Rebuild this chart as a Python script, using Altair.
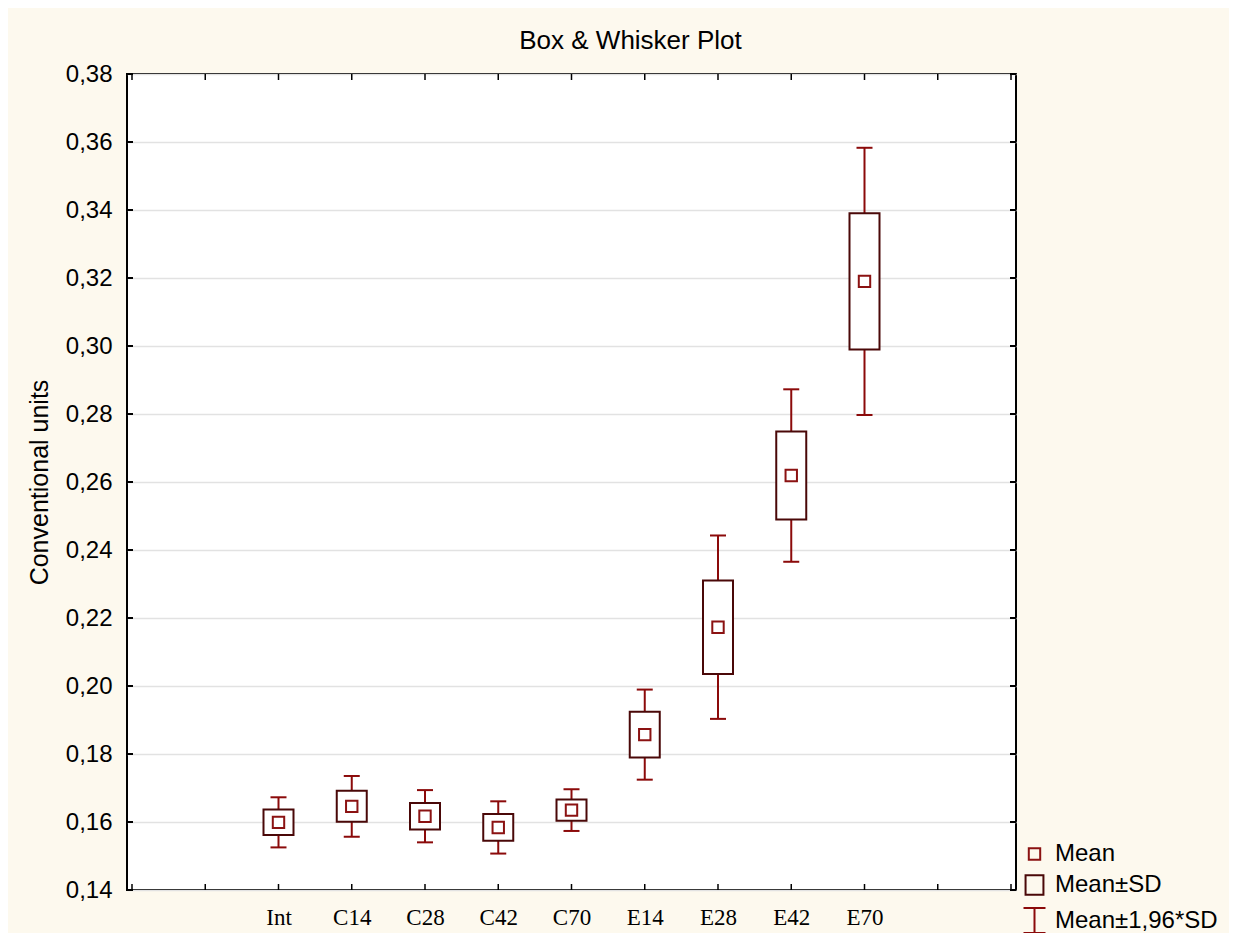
import json
import altair as alt
import pandas as pd

# ---- data ----
categories = ["Int", "C14", "C28", "C42", "C70", "E14", "E28", "E42", "E70"]
means = [0.1599, 0.1646, 0.1617, 0.1584, 0.1635, 0.1857, 0.2173, 0.2619, 0.3190]
sds = [0.00376, 0.00456, 0.00392, 0.00392, 0.00313, 0.00676, 0.01376, 0.01294, 0.02005]
y_ticks = [0.14, 0.16, 0.18, 0.20, 0.22, 0.24, 0.26, 0.28, 0.30, 0.32, 0.34, 0.36, 0.38]
legend_items = ["Mean", "Mean±SD", "Mean±1,96*SD"]
x_slots = list(range(13))  # category slots: 2 empty on each side

W, H = 889, 816
MEAN_C = "#8B1212"
BOX_C = "#4A0808"
WHISK_C = "#8B0A0A"

df = pd.DataFrame({
    "cat": categories,
    "pos": [i + 2 for i in range(len(categories))],
    "mean": means,
    "sd": sds,
})
df["sd_lo"] = df["mean"] - df["sd"]
df["sd_hi"] = df["mean"] + df["sd"]
df["w_lo"] = df["mean"] - 1.96 * df["sd"]
df["w_hi"] = df["mean"] + 1.96 * df["sd"]
df["kind"] = "Mean"

x_labels = [""] * 2 + categories + [""] * 2
x_label_expr = json.dumps(x_labels) + "[datum.value]"

xscale = alt.Scale(domain=[0, 12], nice=False, zero=False)
yscale = alt.Scale(domain=[0.14, 0.38], nice=False, zero=False)

x_enc = alt.X("pos:Q", scale=xscale, axis=alt.Axis(
    values=x_slots, labelExpr=x_label_expr, title=None, grid=False, ticks=False,
    domain=False, labelFont="Liberation Serif", labelFontSize=23, labelColor="black",
    labelPadding=16))

base = alt.Chart(df)

whisk = base.mark_rule(color=WHISK_C, strokeWidth=2).encode(
    x=x_enc,
    y=alt.Y("w_lo:Q", scale=yscale, axis=alt.Axis(
        values=y_ticks, labelExpr="replace(format(datum.value, '.2f'), '.', ',')",
        title="Conventional units", titleFont="Liberation Sans", titleFontSize=25,
        titleFontWeight="normal", titleColor="black", titlePadding=13,
        labelFont="Liberation Sans", labelFontSize=24, labelColor="black",
        labelPadding=15, ticks=False, domain=False, grid=True,
        gridColor="#E2E2E2", gridWidth=1.5)),
    y2="w_hi:Q",
)

cap_lo = base.mark_point(shape="M-1,0H1", size=256, strokeWidth=2, color=WHISK_C,
                         filled=False, opacity=1).encode(
    x=alt.X("pos:Q", scale=xscale), y=alt.Y("w_lo:Q", scale=yscale))
cap_hi = base.mark_point(shape="M-1,0H1", size=256, strokeWidth=2, color=WHISK_C,
                         filled=False, opacity=1).encode(
    x=alt.X("pos:Q", scale=xscale), y=alt.Y("w_hi:Q", scale=yscale))

box = base.mark_bar(size=30, fill="white", stroke=BOX_C, strokeWidth=2).encode(
    x=alt.X("pos:Q", scale=xscale), y=alt.Y("sd_lo:Q", scale=yscale), y2="sd_hi:Q")

legend = alt.Legend(
    title=None, orient="none", legendX=894, legendY=768,
    labelFont="Liberation Sans", labelFontSize=24, labelColor="black", labelLimit=0,
    symbolStrokeWidth=2, labelOffset=7, rowPadding=5, padding=0)

mean_pts = base.mark_point(filled=False, strokeWidth=2, opacity=1).encode(
    x=alt.X("pos:Q", scale=xscale),
    y=alt.Y("mean:Q", scale=yscale),
    color=alt.Color("kind:N", scale=alt.Scale(domain=legend_items,
                                              range=[MEAN_C, BOX_C, WHISK_C]),
                    legend=legend),
    shape=alt.Shape("kind:N", scale=alt.Scale(
        domain=legend_items,
        range=["square", "M-0.92,-1H0.92V1H-0.92Z",
               "M-0.88,-1H0.88M0,-1V1M-0.88,1H0.88"]), legend=legend),
    size=alt.Size("kind:N", scale=alt.Scale(domain=legend_items,
                                            range=[130, 625, 625]), legend=legend),
)

# inside tick marks on the frame
ydf = pd.DataFrame({"v": y_ticks})
xdf = pd.DataFrame({"p": x_slots})
tick_l = alt.Chart(ydf).mark_rule(color="black", strokeWidth=2).encode(
    y=alt.Y("v:Q", scale=yscale), x=alt.value(0), x2=alt.value(6))
tick_r = alt.Chart(ydf).mark_rule(color="black", strokeWidth=2).encode(
    y=alt.Y("v:Q", scale=yscale), x=alt.value(W - 6), x2=alt.value(W))
tick_b = alt.Chart(xdf).mark_rule(color="black", strokeWidth=1.5).encode(
    x=alt.X("p:Q", scale=xscale), y=alt.value(H - 6), y2=alt.value(H))
tick_t = alt.Chart(xdf).mark_rule(color="black", strokeWidth=1.5).encode(
    x=alt.X("p:Q", scale=xscale), y=alt.value(0), y2=alt.value(6))

chart = alt.layer(whisk, cap_lo, cap_hi, box, mean_pts, tick_l, tick_r, tick_b, tick_t).properties(
    width=W, height=H,
    title=alt.TitleParams("Box & Whisker Plot", font="Liberation Sans", fontSize=26,
                          fontWeight="normal", color="black", anchor="middle",
                          dx=59, offset=8),
    padding={"left": 119, "top": 66, "right": 213, "bottom": 43},
    autosize=alt.AutoSizeParams(type="none"),
    background="#FDF9EE",
).configure_view(stroke="black", strokeWidth=2, fill="white")

chart.save("out.html", embed_options={"renderer": "svg", "actions": False})
